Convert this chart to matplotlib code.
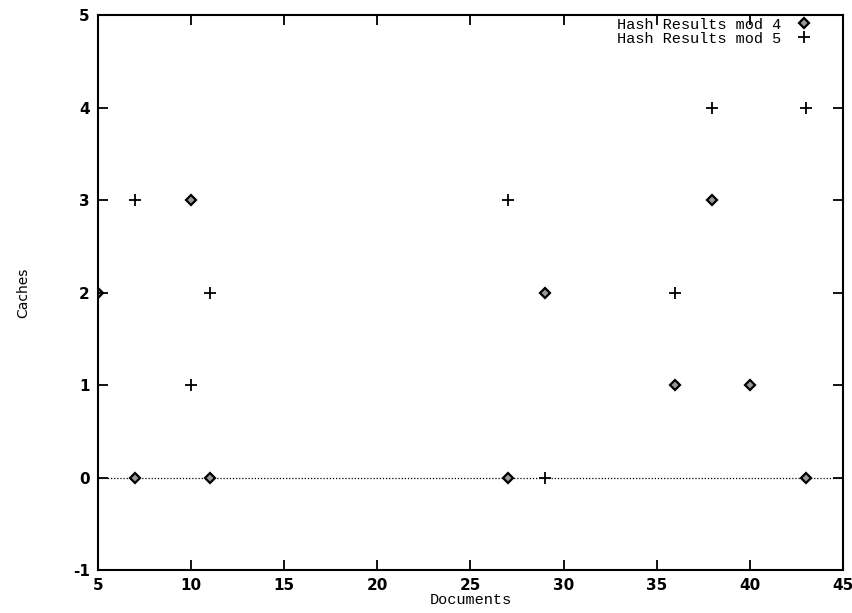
import matplotlib
matplotlib.use("Agg")
import matplotlib.pyplot as plt

plt.rcParams["axes.unicode_minus"] = False

docs_mod4 = [5, 7, 10, 11, 27, 29, 36, 38, 40, 43]
caches_mod4 = [2, 0, 3, 0, 0, 2, 1, 3, 1, 0]
docs_mod5 = [5, 7, 10, 11, 27, 29, 36, 38, 43]
caches_mod5 = [2, 3, 1, 2, 3, 0, 2, 4, 4]
x_ticks = [5, 10, 15, 20, 25, 30, 35, 40, 45]
y_ticks = [-1, 0, 1, 2, 3, 4, 5]

fig = plt.figure(figsize=(8.53, 6.13), dpi=100)
ax = fig.add_axes([0.115, 0.070, 0.873, 0.9055])

ax.axhline(0, color="black", linestyle=(0, (1, 1.5)), linewidth=0.9, zorder=1)
ax.plot(docs_mod4, caches_mod4, linestyle="none", marker="D", markersize=5,
        markerfacecolor="#999999", markeredgecolor="black", markeredgewidth=1.6,
        label="Hash Results mod 4", zorder=3)
ax.plot(docs_mod5, caches_mod5, linestyle="none", marker="+", markersize=8,
        markeredgewidth=1.3, color="black", label="Hash Results mod 5", zorder=3)

ax.set_xlim(5, 45)
ax.set_ylim(-1, 5)
ax.set_xticks(x_ticks)
ax.set_yticks(y_ticks)
ax.set_xticklabels([str(v) for v in x_ticks])
ax.set_yticklabels([str(v) for v in y_ticks])
ax.tick_params(direction="in", length=7, width=1.3, top=True, right=True,
               labelsize=11, pad=6)
for lab in ax.get_xticklabels() + ax.get_yticklabels():
    lab.set_fontweight("bold")
    lab.set_family("DejaVu Sans")
for s in ax.spines.values():
    s.set_linewidth(1.5)

ax.set_xlabel("Documents", family="Liberation Mono", fontsize=11, labelpad=0)
ax.set_ylabel("Caches", family="DejaVu Sans", fontsize=10, labelpad=31)

leg = ax.legend(loc="upper right", bbox_to_anchor=(0.958, 0.995), frameon=False,
                markerfirst=False,
                prop={"family": "Liberation Mono", "size": 11},
                handlelength=1.0, handletextpad=1.0, labelspacing=0.0,
                borderaxespad=0.0, borderpad=0.0)

fig.savefig("out.png", dpi=100)
